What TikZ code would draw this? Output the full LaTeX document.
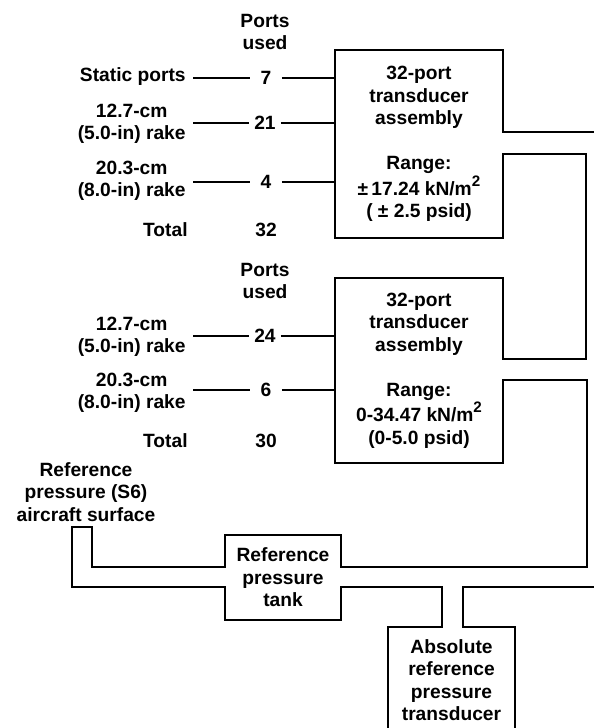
\documentclass[tikz,border=0pt]{standalone}
\usepackage{fontspec}
\setmainfont{Liberation Sans}
\newcommand{\sqsup}{\raisebox{0.85ex}{\fontsize{7.6}{7.6}\selectfont 2}}
\begin{document}
\begin{tikzpicture}[x=0.5pt,y=-0.5pt,
  every node/.style={font=\fontsize{9.6}{11.25}\selectfont\bfseries, inner sep=0pt, align=center},
  num/.style={minimum width=15.5pt},
  boxnode/.style={minimum width=84pt},
  pipe/.style={line width=0.95pt, line join=miter},
  lead/.style={line width=0.75pt}]
\useasboundingbox (0,0) rectangle (594,728);

% ---- upper group ----
\node (pu1) at (265,32) {Ports\\used};
\node[anchor=east] (ls)  at (186,77)  {Static ports};
\node[anchor=east] (lr1) at (186,124) {12.7-cm\\(5.0-in) rake};
\node[anchor=east] (lr2) at (186,181) {20.3-cm\\(8.0-in) rake};
\node[anchor=east] (lt1) at (188,230) {Total};
\node[num] (n7)  at (266,78)  {7};
\node[num] (n21) at (265,123) {21};
\node[num] (n4)  at (266,182) {4};
\node (t32) at (266,230) {32};
\node[boxnode, minimum height=94pt] (b1) at (419,144)
  {32-port\\transducer\\assembly\\[11.25pt]Range:\\±\,17.24 kN/m\sqsup\\( ± 2.5 psid)};

\draw[lead] ([xshift=3.5pt]ls.east |- n7.west) -- (n7.west);
\draw[lead] (n7.east) -- (n7.east -| b1.west);
\draw[lead] ([xshift=3.5pt]lr1.east |- n21.west) -- (n21.west);
\draw[lead] (n21.east) -- (n21.east -| b1.west);
\draw[lead] ([xshift=3.5pt]lr2.east |- n4.west) -- (n4.west);
\draw[lead] (n4.east) -- (n4.east -| b1.west);

% ---- lower group ----
\node (pu2) at (265,281) {Ports\\used};
\node[anchor=east] (lr3) at (186,337) {12.7-cm\\(5.0-in) rake};
\node[anchor=east] (lr4) at (186,393) {20.3-cm\\(8.0-in) rake};
\node[anchor=east] (lt2) at (188,441) {Total};
\node[num] (n24) at (265,336) {24};
\node[num] (n6)  at (266,390) {6};
\node (t30) at (266,441) {30};
\node[boxnode, minimum height=92.5pt] (b2) at (419,370.5)
  {32-port\\transducer\\assembly\\[11.25pt]Range:\\0-34.47 kN/m\sqsup\\(0-5.0 psid)};

\draw[lead] ([xshift=3.5pt]lr3.east |- n24.west) -- (n24.west);
\draw[lead] (n24.east) -- (n24.east -| b2.west);
\draw[lead] ([xshift=3.5pt]lr4.east |- n6.west) -- (n6.west);
\draw[lead] (n6.east) -- (n6.east -| b2.west);

% ---- reference system ----
\node (rs) at (86,492) {Reference\\pressure (S6)\\aircraft surface};
\node[minimum width=58pt, minimum height=42.5pt] (tank) at (283,577.5) {Reference\\pressure\\tank};
\node (abs) at (451.5,680) {Absolute\\reference\\pressure\\transducer};

\coordinate (e1) at (594,132);
\coordinate (e2) at (594,587);
\coordinate (rA) at (586,154);
\coordinate (rB) at (587,380);
\coordinate (sA) at (92,527);
\coordinate (sB) at (72,527);
\coordinate (aL) at (442,627);
\coordinate (aR) at (463,627);
\coordinate (aBL) at (388,728);
\coordinate (aBR) at (515,728);

% boxes and pipe walls, with the pipe openings left in the box sides
\draw[pipe] (e1) -- (b1.east |- e1) -- (b1.north east) -- (b1.north west)
  -- (b1.south west) -- (b1.south east) -- (b1.east |- rA) -- (rA)
  -- (rA |- 0,359) -- (b2.east |- 0,359) -- (b2.north east) -- (b2.north west)
  -- (b2.south west) -- (b2.south east) -- (b2.east |- rB) -- (rB)
  -- (rB |- 0,567) -- (tank.east |- 0,567) -- (tank.north east) -- (tank.north west)
  -- (tank.west |- 0,567) -- (sA |- 0,567) -- (sA) -- (sB) -- (sB |- 0,587)
  -- (tank.west |- 0,587) -- (tank.south west) -- (tank.south east)
  -- (tank.east |- 0,587) -- (aL |- 0,587) -- (aL) -- (aBL |- aL) -- (aBL);
\draw[pipe] (e2) -- (aR |- e2) -- (aR) -- (aBR |- aR) -- (aBR);
\end{tikzpicture}
\end{document}
